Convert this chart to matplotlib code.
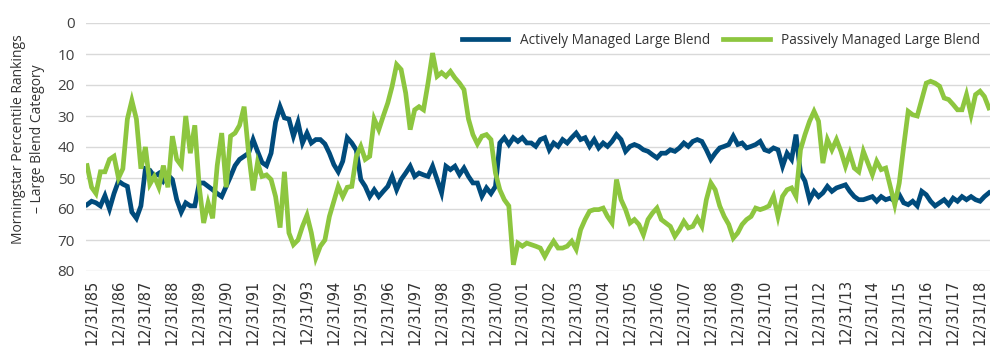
import pandas as pd
import matplotlib.pyplot as plt

# bi-monthly month-end dates, Oct 1985 .. Apr 2019
dates = pd.date_range('1985-10-31', periods=202, freq='2ME')

active = [
    58.6, 57.5, 58, 59, 55.7, 60, 55, 51, 52, 52.7,
    61, 63, 59, 47, 47.5, 49.5, 48.5, 51, 49, 50.5,
    57, 61, 58, 59, 59, 51.6, 51.6, 52.7, 53.8, 55,
    56, 52.7, 49.5, 46, 44, 43, 42, 37.6, 41.4, 45,
    46, 42, 32, 27, 30.6, 31, 36.5, 32, 38.7, 35.5,
    38.7, 37.6, 37.6, 39, 42, 45.7, 48, 44.6, 37, 38.7,
    41, 50.5, 52.7, 56, 53.8, 56, 54.3, 52.7, 49.5, 53.8,
    50.5, 48.4, 46.2, 49.5, 48.4, 49, 49.5, 46.2, 50.5, 54.8,
    46.2, 47.3, 46.2, 48.9, 46.8, 49.5, 51.6, 51.6, 55.9, 53.2,
    55, 52.7, 38.7, 37, 39.2, 37, 38.2, 37, 38.7, 38.7,
    39.8, 37.6, 37, 40.9, 38.7, 39.8, 37.6, 38.7, 37, 35.5,
    37.6, 37, 39.8, 37.6, 40.3, 38.7, 39.8, 38.2, 36, 37.6,
    41.4, 39.8, 39.2, 39.8, 40.9, 41.4, 42.5, 43.5, 42, 42,
    40.9, 41.4, 40.3, 38.7, 39.8, 38.2, 37.6, 38.2, 40.9, 44,
    42, 40.3, 39.8, 39.2, 36.5, 39.2, 38.7, 40.3, 39.8, 39.2,
    38.2, 40.9, 41.4, 40.3, 40.9, 46.2, 42, 44, 36, 48.4,
    51, 57, 54.3, 56, 54.8, 52.7, 54.3, 53.2, 52.7, 52.2,
    54.3, 56, 57, 57, 56.5, 56, 57.5, 56, 57, 56.5,
    57.5, 55.4, 58, 58.6, 57.5, 59, 54.3, 55.4, 57.5, 59,
    58, 57, 58.6, 56.5, 57.5, 56, 57, 56, 57, 57.5,
    56, 54.8,
]

passive = [
    46, 53, 55, 48, 48, 44, 43, 50, 47, 31,
    25, 31, 47, 40, 52, 49.5, 53, 46, 53, 36.5,
    44, 46, 30, 42, 33, 53, 64.5, 58, 63, 46,
    35.5, 53, 36.5, 35.5, 33, 27, 42, 54, 45, 49.5,
    49, 50.5, 56, 66, 48, 67.7, 71.5, 70, 65.6, 62,
    67.7, 75.8, 72, 70, 62.4, 57.5, 52.7, 56, 53, 52.7,
    43, 39.8, 44, 43, 31, 34.4, 30, 25.8, 20.4, 13.4,
    15, 22.6, 34.4, 28, 27, 28, 19.4, 9.7, 17.2, 16,
    17.2, 15.6, 17.7, 19.4, 21.5, 31, 36, 39, 36.5, 36,
    37.6, 48.4, 53.8, 57, 59, 78, 71, 72, 71, 71.5,
    72, 72.6, 75.3, 72.6, 70.4, 72.6, 72.6, 72, 70.4, 73,
    66.7, 63.4, 60.7, 60.2, 60.2, 59.7, 62.4, 64.5, 50.5, 57,
    60.2, 64.5, 63.4, 65, 68.3, 63.4, 61.3, 59.7, 63.4, 64.5,
    65.6, 68.8, 66.7, 64, 66.1, 65.6, 63, 65.6, 57, 51.6,
    53.8, 59, 62.4, 65, 69.4, 67.7, 65, 63.4, 62.4, 59.7,
    60.2, 59.7, 59, 55.9, 62.4, 55.9, 53.8, 53.2, 55.9, 40.9,
    36, 31.7, 28.5, 31.7, 45.2, 37.6, 40.9, 37.6, 41.4, 46.2,
    42, 46.8, 48, 41.4, 45.2, 48.9, 44.6, 47.3, 46.8, 52.7,
    58.6, 51.6, 39.8, 28.5, 29.6, 30, 24.7, 19.4, 18.8, 19.4,
    20.4, 24.2, 24.7, 26.3, 28, 28, 23.1, 29.6, 23.1, 22,
    23.7, 27.4,
]

tick_years = list(range(1985, 2019))
tick_labels = [f"12/31/{y % 100:02d}" for y in tick_years]

plt.rcParams['font.family'] = ['Open Sans', 'DejaVu Sans']

fig = plt.figure(figsize=(10.07, 3.48), dpi=100)
ax = fig.add_axes([86 / 1007, 1 - 271 / 348, 904 / 1007, 248 / 348])

ax.plot(dates, active, color='#004b7c', lw=3.4, solid_joinstyle='miter',
        label='Actively Managed Large Blend')
ax.plot(dates, passive, color='#8dc63f', lw=3.4, solid_joinstyle='miter',
        label='Passively Managed Large Blend')

ax.set_ylim(80, 0)
ax.set_yticks(range(0, 81, 10))
ax.set_xlim(dates[0] - pd.Timedelta(days=15), dates[-1] + pd.Timedelta(days=15))
ax.set_xticks([pd.Timestamp(f"{y}-12-31") for y in tick_years])
ax.set_xticklabels(tick_labels, rotation=90, fontsize=10.5, color='#333333',
                   family=['Liberation Sans Narrow', 'DejaVu Sans'])

ax.grid(axis='y', color='#d9d9d9', lw=1)
ax.set_axisbelow(True)
for s in ax.spines.values():
    s.set_visible(False)
ax.tick_params(axis='both', length=0)
ax.tick_params(axis='y', labelsize=11, labelcolor='#404040', pad=8)
ax.tick_params(axis='x', pad=6)

fig.text(28 / 1007, 1 - 139 / 348,
         "Morningstar Percentile Rankings\n\u2013 Large Blend Category",
         rotation=90, ha='center', va='center', multialignment='center',
         fontsize=10, color='#333333', linespacing=1.3)

ax.legend(loc='upper right', bbox_to_anchor=(1.003, 1.01), ncol=2, frameon=False,
          fontsize=9.8, handlelength=3.4, handletextpad=0.85, columnspacing=1.0,
          labelcolor='#333333')

fig.savefig('out.png', dpi=100)
